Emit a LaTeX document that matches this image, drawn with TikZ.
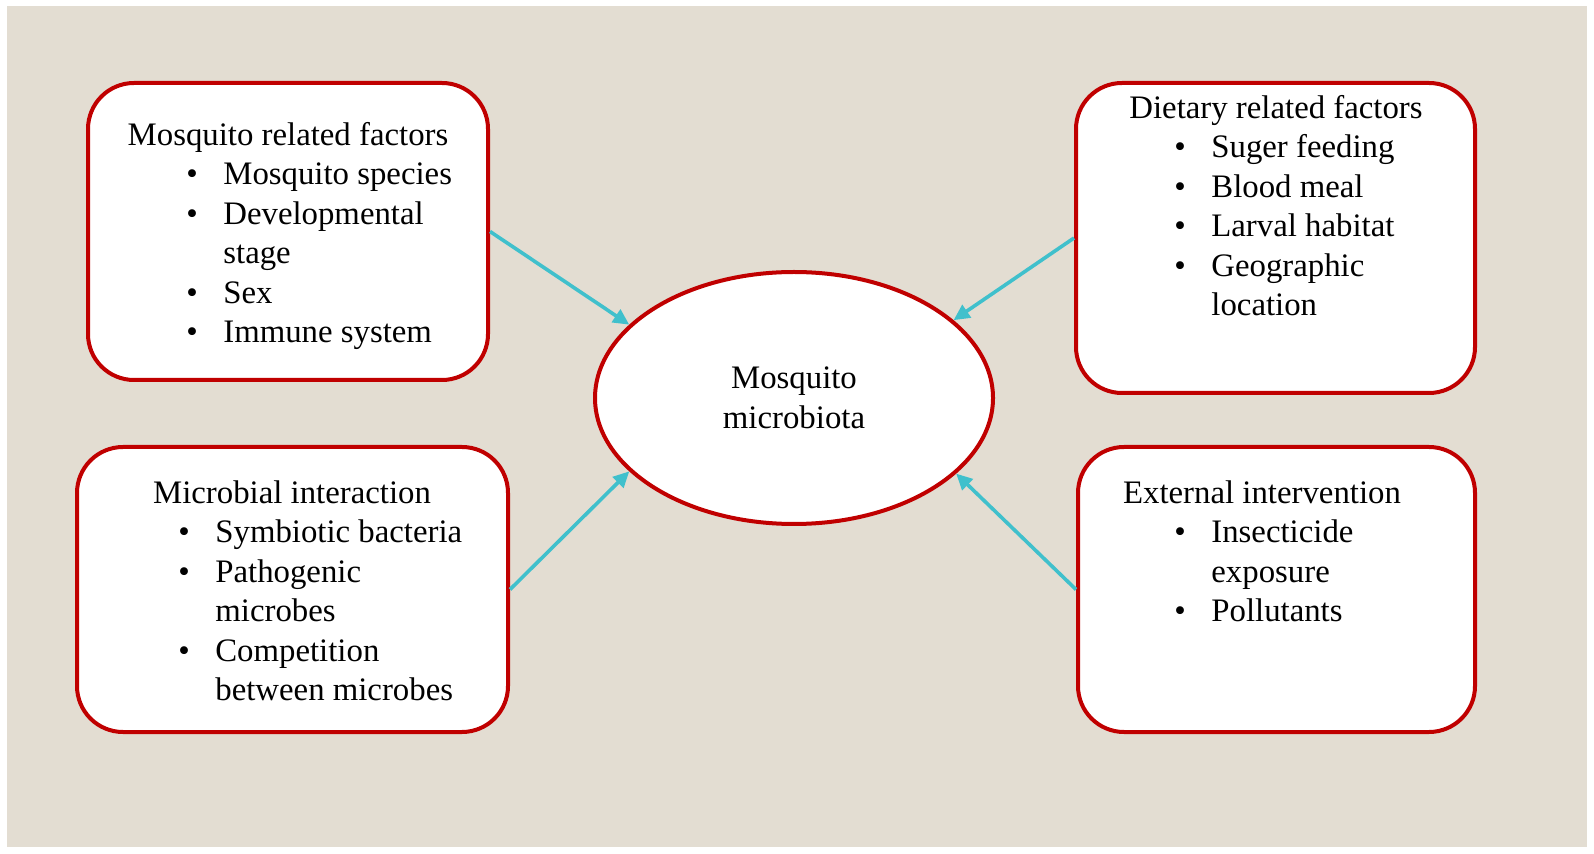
\documentclass[tikz,border=0pt]{standalone}
\usepackage{fontspec}
\setmainfont{Liberation Serif}
\usetikzlibrary{arrows.meta,positioning,calc,shapes.geometric}
\definecolor{pagefill}{HTML}{E3DDD2}
\definecolor{boxred}{HTML}{C00000}
\definecolor{linkcyan}{HTML}{40C0CC}
\newcommand{\figfont}{\fontsize{16.4}{19.7}\selectfont}
\newcommand{\itemtab}[1]{\begin{tabular}[t]{@{}p{18.5pt}@{}l@{}}#1\end{tabular}}

\begin{document}
\begin{tikzpicture}[x=0.5pt, y=-0.5pt,
  factor/.style={draw=boxred, line width=2pt, rounded corners=23pt, fill=white, inner sep=0pt},
  hub/.style={ellipse, draw=boxred, line width=2pt, fill=white, minimum width=199pt, minimum height=126pt, inner sep=0pt, align=center, font=\figfont},
  head/.style={anchor=base, inner sep=0pt, font=\figfont},
  items/.style={anchor=base west, inner sep=0pt, font=\figfont},
  arr/.style={-{Triangle[length=8pt,width=7.5pt]}, line width=1.8pt, linkcyan}
]
  \useasboundingbox (0,0) rectangle (1594,854);
  \fill[white] (0,0) rectangle (1594,854);
  \fill[pagefill] (7,6) rectangle (1587,847);

  % factor boxes
  \node[factor, minimum width=200pt, minimum height=148.5pt] (mosq) at (288,231.5) {};
  \node[factor, minimum width=199.5pt, minimum height=155pt] (diet) at (1275.5,238) {};
  \node[factor, minimum width=215.5pt, minimum height=142.5pt] (micro) at (292.5,589.5) {};
  \node[factor, minimum width=198.5pt, minimum height=142.5pt] (ext) at (1276.5,589.5) {};
  \node[hub] (hub) at (794,398) {Mosquito\\microbiota};

  % box texts
  \node[head] (mosqt) at (288,146) {Mosquito related factors};
  \node[items] (mosql) at (186,185) {\itemtab{\textbullet & Mosquito species\\
    \textbullet & Developmental\\ & stage\\ \textbullet & Sex\\ \textbullet & Immune system}};
  \node[head] (dieth) at (1276,119) {Dietary related factors};
  \node[items] (dietl) at (1174,158) {\itemtab{\textbullet & Suger feeding\\
    \textbullet & Blood meal\\ \textbullet & Larval habitat\\ \textbullet & Geographic\\ & location}};
  \node[head] (microt) at (292,504) {Microbial interaction};
  \node[items] (microl) at (178,543) {\itemtab{\textbullet & Symbiotic bacteria\\
    \textbullet & Pathogenic\\ & microbes\\ \textbullet & Competition\\ & between microbes}};
  \node[head] (extt) at (1262,504) {External intervention};
  \node[items] (extl) at (1174,543) {\itemtab{\textbullet & Insecticide\\ & exposure\\
    \textbullet & Pollutants}};

  % links
  \draw[arr] (mosq.east) -- (hub.156);
  \draw[arr] (micro.east) -- (hub.204);
  \draw[arr] (diet.west) -- (hub.26);
  \draw[arr] (ext.west) -- (hub.-25);
\end{tikzpicture}
\end{document}
